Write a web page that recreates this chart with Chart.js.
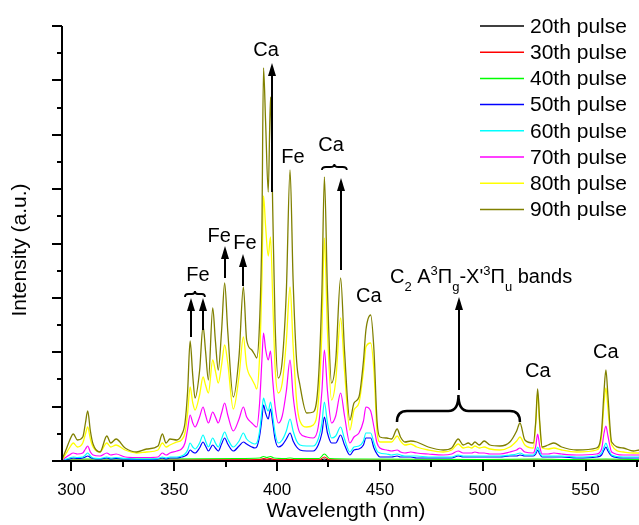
<!DOCTYPE html>
<html>
<head>
<meta charset="utf-8">
<script src="https://cdn.jsdelivr.net/npm/chart.js@4.4.1/dist/chart.umd.min.js"></script>
<style>
  html, body { margin: 0; padding: 0; background: #fff; }
  canvas { display: block; }
</style>
</head>
<body>
<canvas id="chart" width="639" height="525"></canvas>
<script>
// ─── Data (wavelength in nm, intensity in a.u.) ──────────────────
const wavelengths = [
  295.5, 297.5, 299.0, 300.9, 302.9, 305.5, 306.8, 307.9, 309.2, 310.5,
  313.9, 317.2, 319.1, 321.7, 326.1, 331.7, 336.6, 342.1, 344.2, 346.0,
  347.9, 351.2, 353.5, 355.2, 356.5, 357.7, 359.0, 360.1, 362.3, 364.0,
  365.2, 366.6, 368.7, 370.0, 371.4, 373.0, 374.5, 376.0, 378.7, 381.5,
  383.6, 385.2, 387.7, 389.2, 390.1, 391.5, 392.6, 393.4, 394.4, 395.7,
  396.8, 397.9, 399.0, 400.6, 402.5, 404.5, 406.3, 407.8, 409.5, 411.1,
  414.4, 417.6, 420.0, 421.8, 423.0, 424.5, 426.5, 428.5, 430.9, 432.8,
  435.4, 437.4, 439.8, 442.0, 443.2, 445.5, 447.1, 448.6, 450.0, 453.3,
  455.7, 458.4, 460.0, 462.2, 465.0, 467.9, 473.5, 480.8, 484.9, 488.1,
  490.5, 493.0, 494.6, 496.2, 498.3, 500.7, 503.5, 508.4, 513.2, 516.5,
  518.1, 520.5, 524.6, 525.8, 526.7, 527.7, 528.9, 531.8, 534.6, 538.4,
  545.7, 555.4, 557.8, 559.0, 559.9, 560.9, 562.7, 568.3, 573.2, 576.0
];
const pulse90 = [
  2, 12, 20, 27, 21, 24, 38, 50, 30, 17,
  9, 25, 18, 22, 13, 9, 12, 15, 27, 18,
  22, 21, 26, 38, 70, 120, 85, 63, 90, 135,
  110, 81, 153, 120, 91, 130, 178, 130, 64, 105,
  174, 121, 111, 106, 103, 140, 230, 393, 340, 269,
  364, 250, 140, 83, 100, 170, 291, 180, 100, 76,
  48, 49, 78, 170, 284, 170, 78, 100, 183, 110,
  41, 58, 64, 100, 131, 146, 111, 40, 24, 23,
  22, 32, 24, 19, 20, 19, 14, 11, 13, 22,
  16, 18, 16, 19, 16, 20, 16, 15, 19, 30,
  38, 21, 18, 40, 72, 40, 14, 16, 18, 14,
  11, 13, 30, 70, 91, 65, 19, 13, 10, 11
];
const pulse80 = [
  1, 8, 13, 18, 14, 18, 27, 34, 22, 14,
  9, 18, 14, 16, 11, 8, 9, 11, 18, 14,
  16, 19, 21, 28, 48, 74, 58, 51, 66, 84,
  76, 68, 101, 90, 78, 96, 116, 98, 52, 85,
  124, 95, 82, 76, 72, 105, 180, 265, 235, 205,
  224, 160, 95, 68, 78, 120, 174, 115, 60, 40,
  34, 36, 58, 130, 223, 130, 61, 80, 143, 90,
  31, 51, 58, 90, 114, 118, 90, 30, 19, 19,
  19, 25, 20, 16, 17, 14, 11, 9, 11, 17,
  13, 14, 13, 15, 13, 14, 12, 11, 14, 20,
  24, 16, 13, 38, 68, 36, 13, 12, 13, 11,
  9, 11, 25, 58, 73, 52, 16, 9, 8, 8
];
const pulse70 = [
  1, 4, 6, 8, 7, 8, 12, 15, 9, 6,
  5, 8, 6, 7, 4, 3.5, 3.5, 4, 8, 6,
  8, 10, 12, 18, 32, 46, 38, 34, 44, 54,
  46, 38, 49, 44, 38, 48, 58, 46, 30, 42,
  54, 44, 38, 35, 34, 58, 100, 128, 112, 101,
  110, 80, 55, 38, 45, 70, 101, 65, 40, 28,
  24, 23, 34, 70, 111, 70, 38, 45, 68, 45,
  18, 24, 28, 40, 54, 50, 34, 18, 13, 11,
  10, 11, 9, 8, 9, 8, 7, 6, 7, 10,
  8, 8, 8, 9, 8, 8, 7, 7, 9, 11,
  13, 9, 8, 15, 27, 15, 7, 7, 8, 7,
  6, 7, 12, 28, 35, 25, 9, 6, 6, 6
];
const pulse60 = [
  0.5, 2, 3, 4, 3.5, 4, 6, 8, 5, 3,
  2.5, 4, 3, 3.5, 2.5, 2, 2, 2.5, 4, 3,
  4, 4, 5, 7, 11, 18, 14, 12, 18, 26,
  20, 14, 23, 18, 14, 22, 29, 22, 14, 20,
  28, 22, 18, 17, 18, 30, 50, 63, 56, 50,
  59, 45, 28, 18, 21, 30, 42, 30, 20, 16,
  15, 15, 22, 38, 59, 38, 23, 25, 34, 22,
  9, 14, 15, 20, 28, 28, 18, 10, 8, 7,
  6, 7, 6, 5, 5, 5, 4, 4, 4, 6,
  5, 5, 5, 5, 5, 5, 5, 5, 6, 7,
  8, 6, 6, 9, 14, 9, 5, 5, 5, 5,
  4, 5, 8, 14, 18, 13, 6, 4, 4, 4
];
const pulse50 = [
  0.5, 1.5, 2, 3, 2.5, 3, 4, 5, 3.5, 2.5,
  2, 3, 2, 2.5, 2, 1.5, 1.5, 2, 3, 2,
  3, 3, 4, 5, 7, 11, 9, 8, 13, 19,
  15, 10, 16, 13, 10, 17, 23, 17, 10, 15,
  19, 17, 14, 13, 14, 25, 42, 56, 48, 42,
  52, 38, 22, 14, 16, 22, 28, 20, 14, 11,
  10, 10, 16, 28, 44, 28, 18, 18, 26, 16,
  6, 11, 12, 16, 23, 23, 13, 7, 4, 4,
  4, 5, 4, 4, 4, 3, 3, 3, 3, 5,
  4, 4, 4, 4, 4, 4, 4, 4, 5, 5,
  6, 5, 5, 7, 11, 7, 4, 4, 4, 4,
  3, 4, 6, 11, 14, 10, 5, 3, 3, 3
];
// the early pulses stay close to zero
const lowWl   = [295.5, 300, 340, 380, 391.5, 393.4, 395, 396.8, 398.5, 404, 406.3, 408.5, 420.5, 423, 425.5, 440, 500, 527, 540, 559.9, 576];
const pulse40 = [0.5, 2, 2, 2.5, 3, 4.5, 3.5, 4.5, 3, 2.5, 3, 2.5, 2.5, 7, 2.5, 2, 1.5, 2, 1.5, 2, 1.5];
const pulse30 = [0, 1, 1, 1.2, 1.5, 2.5, 1.8, 2.5, 1.5, 1.2, 1.5, 1.2, 1.2, 4, 1.2, 1, 0.8, 1, 0.8, 1, 0.8];
const pulse20 = [0, 0.5, 0.5, 0.6, 0.8, 1.2, 0.9, 1.2, 0.8, 0.6, 0.8, 0.6, 0.6, 2, 0.6, 0.5, 0.4, 0.5, 0.4, 0.5, 0.4];

const seriesLabels = ['20th pulse', '30th pulse', '40th pulse', '50th pulse', '60th pulse', '70th pulse', '80th pulse', '90th pulse'];
const seriesColors = ['#000000', '#ff0000', '#00ff00', '#0000ff', '#00ffff', '#ff00ff', '#ffff00', '#808000'];
const seriesX = [lowWl, lowWl, lowWl, wavelengths, wavelengths, wavelengths, wavelengths, wavelengths];
const seriesY = [pulse20, pulse30, pulse40, pulse50, pulse60, pulse70, pulse80, pulse90];

const xMajor = [300, 350, 400, 450, 500, 550];
const xMinor = [325, 375, 425, 475, 525, 575];
const X_MIN = 295.4, X_MAX = 576, Y_MAX = 435, Y_STEP = 435 / 8;

// ─── Annotations (data coordinates) ──────────────────────────────
const labelText = ['Ca', 'Fe', 'Ca', 'Ca', 'Ca', 'Ca', 'Fe', 'Fe', 'Fe'];
const labelWl   = [394.6, 407.7, 426.2, 444.6, 526.8, 559.9, 361.5, 371.8, 384.4];
const labelInt  = [411, 304, 316, 165, 90, 109, 186, 225, 218];

const arrowWl   = [397.4, 431.1, 488.4, 358.0, 363.8, 374.7, 383.6];
const arrowFrom = [269, 191, 71, 124, 131, 183, 175];
const arrowTo   = [398, 283, 164, 163, 163, 215, 207];

const braceWl1  = [355.2, 421.8, 458.3];
const braceWl2  = [364.9, 433.9, 518.1];
const braceEnd  = [164, 291, 39];
const braceLine = [167, 294, 50];
const braceCusp = [170, 297, 66];
const braceR    = [3, 4, 10];

const FONT = '"Liberation Sans", Arial, Helvetica, sans-serif';

// ─── Drawing helpers ─────────────────────────────────────────────
function drawArrow(ctx, x, y0, y1) {
  const head = 13, half = 4;
  ctx.lineWidth = 2;
  ctx.beginPath(); ctx.moveTo(x, y0); ctx.lineTo(x, y1 + head - 1); ctx.stroke();
  ctx.beginPath();
  ctx.moveTo(x, y1); ctx.lineTo(x - half, y1 + head); ctx.lineTo(x + half, y1 + head);
  ctx.closePath(); ctx.fill();
}

function drawBrace(ctx, x1, x2, yEnd, yLine, yCusp, r) {
  const xm = (x1 + x2) / 2;
  ctx.beginPath();
  ctx.moveTo(x1, yEnd);
  ctx.quadraticCurveTo(x1, yLine, x1 + r, yLine);
  ctx.lineTo(xm - r, yLine);
  ctx.quadraticCurveTo(xm, yLine, xm, yCusp);
  ctx.quadraticCurveTo(xm, yLine, xm + r, yLine);
  ctx.lineTo(x2 - r, yLine);
  ctx.quadraticCurveTo(x2, yLine, x2, yEnd);
  ctx.stroke();
}

function drawRich(ctx, x, y, parts) {
  ctx.textAlign = 'left';
  ctx.textBaseline = 'alphabetic';
  parts.forEach(p => {
    ctx.font = (p.t ? 13 : 20) + 'px ' + FONT;
    const dy = p.t === 'sub' ? 8 : p.t === 'sup' ? -8 : 0;
    ctx.fillText(p.s, x, y + dy);
    x += ctx.measureText(p.s).width;
  });
}

const decorations = {
  id: 'decorations',
  afterDraw(chart) {
    const { ctx, chartArea: a, scales: { x, y } } = chart;
    ctx.save();
    ctx.strokeStyle = '#000';
    ctx.fillStyle = '#000';
    ctx.lineCap = 'butt';

    // axes
    ctx.lineWidth = 2;
    ctx.beginPath();
    ctx.moveTo(a.left, a.top); ctx.lineTo(a.left, a.bottom); ctx.lineTo(a.right, a.bottom);
    ctx.stroke();

    // y ticks (major + minor, no labels)
    for (let i = 0; i <= 16; i++) {
      const py = Math.round(y.getPixelForValue(i * Y_STEP / 2));
      const len = i % 2 === 0 ? 10 : 5;
      ctx.beginPath(); ctx.moveTo(a.left - len, py); ctx.lineTo(a.left, py); ctx.stroke();
    }
    // x ticks
    xMajor.forEach(v => {
      const px = Math.round(x.getPixelForValue(v));
      ctx.beginPath(); ctx.moveTo(px, a.bottom); ctx.lineTo(px, a.bottom + 10); ctx.stroke();
    });
    xMinor.forEach(v => {
      const px = Math.min(Math.round(x.getPixelForValue(v)), a.right - 1);
      ctx.beginPath(); ctx.moveTo(px, a.bottom); ctx.lineTo(px, a.bottom + 6); ctx.stroke();
    });
    ctx.font = '17px ' + FONT;
    ctx.textAlign = 'center';
    ctx.textBaseline = 'middle';
    xMajor.forEach(v => ctx.fillText(String(v), x.getPixelForValue(v), a.bottom + 29));

    // axis titles
    ctx.font = '21px ' + FONT;
    ctx.fillText('Wavelength (nm)', 346, 511);
    ctx.save();
    ctx.translate(20, 250);
    ctx.rotate(-Math.PI / 2);
    ctx.fillText('Intensity (a.u.)', 0, 0);
    ctx.restore();

    // legend
    ctx.font = '21px ' + FONT;
    ctx.textAlign = 'left';
    seriesLabels.forEach((lab, i) => {
      const ly = 26 + i * 26.2;
      ctx.strokeStyle = seriesColors[i];
      ctx.lineWidth = 1.5;
      ctx.beginPath(); ctx.moveTo(480, ly); ctx.lineTo(524, ly); ctx.stroke();
      ctx.fillText(lab, 530, ly + 1);
    });
    ctx.strokeStyle = '#000';

    // peak labels
    ctx.font = '20px ' + FONT;
    ctx.textAlign = 'center';
    labelText.forEach((t, i) => ctx.fillText(t, x.getPixelForValue(labelWl[i]), y.getPixelForValue(labelInt[i])));

    // arrows
    arrowWl.forEach((w, i) => {
      drawArrow(ctx, Math.round(x.getPixelForValue(w)), y.getPixelForValue(arrowFrom[i]), y.getPixelForValue(arrowTo[i]));
    });

    // braces
    braceWl1.forEach((w, i) => {
      ctx.lineWidth = i === 2 ? 2.5 : 1.8;
      drawBrace(ctx, x.getPixelForValue(w), x.getPixelForValue(braceWl2[i]),
        y.getPixelForValue(braceEnd[i]), y.getPixelForValue(braceLine[i]), y.getPixelForValue(braceCusp[i]), braceR[i]);
    });

    // C2 band label
    drawRich(ctx, x.getPixelForValue(454.9), y.getPixelForValue(178), [
      { s: 'C' }, { s: '2', t: 'sub' }, { s: ' A' }, { s: '3', t: 'sup' }, { s: 'Π' }, { s: 'g', t: 'sub' },
      { s: "-X'" }, { s: '3', t: 'sup' }, { s: 'Π' }, { s: 'u', t: 'sub' }, { s: ' bands' }
    ]);
    ctx.restore();
  }
};

// ─── Chart ───────────────────────────────────────────────────────
// 90th pulse first so it is drawn on top, the early pulses underneath
const datasets = [];
for (let i = seriesLabels.length - 1; i >= 0; i--) {
  datasets.push({
    label: seriesLabels[i],
    data: seriesX[i].map((w, k) => ({ x: w, y: seriesY[i][k] })),
    borderColor: seriesColors[i],
    borderWidth: i >= 6 ? 1.3 : 1.2,
    pointRadius: 0,
    fill: false,
    cubicInterpolationMode: 'monotone'
  });
}

new Chart(document.getElementById('chart').getContext('2d'), {
  type: 'line',
  data: { datasets },
  options: {
    responsive: false,
    animation: false,
    layout: { padding: { left: 62, right: 0, top: 26, bottom: 64 } },
    scales: {
      x: { type: 'linear', min: X_MIN, max: X_MAX, display: false },
      y: { type: 'linear', min: 0, max: Y_MAX, display: false }
    },
    plugins: { legend: { display: false }, tooltip: { enabled: false } }
  },
  plugins: [decorations]
});
</script>
</body>
</html>
